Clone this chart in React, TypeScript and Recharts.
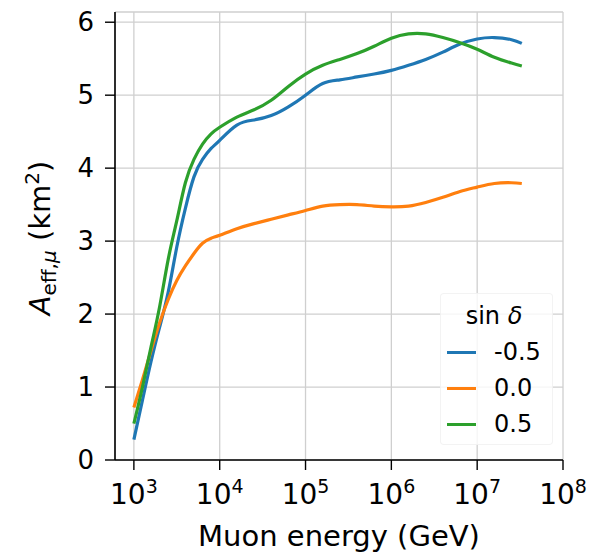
import React from 'react';
import { LineChart, Line, XAxis, YAxis, CartesianGrid, Legend } from 'recharts';

// log10 of muon energy (GeV)
const logEnergy = [3.0, 3.1, 3.2, 3.3, 3.4, 3.5, 3.6, 3.7, 3.8, 3.9, 4.0, 4.2, 4.4, 4.6, 4.8, 5.0, 5.2, 5.4, 5.6, 5.8, 6.0, 6.2, 6.4, 6.6, 6.8, 7.0, 7.2, 7.4, 7.52];
const aeffSinMinus05 = [0.28, 0.82, 1.35, 1.82, 2.3, 2.92, 3.45, 3.88, 4.12, 4.27, 4.38, 4.59, 4.66, 4.72, 4.84, 5.0, 5.16, 5.21, 5.25, 5.29, 5.34, 5.41, 5.49, 5.59, 5.70, 5.77, 5.79, 5.76, 5.71];
const aeffSin00 = [0.72, 1.1, 1.5, 1.88, 2.2, 2.46, 2.66, 2.83, 2.97, 3.04, 3.08, 3.17, 3.24, 3.30, 3.36, 3.42, 3.48, 3.50, 3.50, 3.48, 3.47, 3.48, 3.53, 3.60, 3.68, 3.74, 3.79, 3.80, 3.79];
const aeffSinPlus05 = [0.5, 1.0, 1.55, 2.1, 2.75, 3.28, 3.8, 4.12, 4.33, 4.47, 4.56, 4.70, 4.80, 4.93, 5.12, 5.29, 5.41, 5.49, 5.57, 5.67, 5.78, 5.84, 5.84, 5.79, 5.72, 5.63, 5.52, 5.44, 5.40];

const xTicks = [3, 4, 5, 6, 7, 8];
const yTicks = [0, 1, 2, 3, 4, 5, 6];

const seriesNames = ['-0.5', '0.0', '0.5'];
const seriesKeys = ['m05', 'z00', 'p05'];
const seriesColors = ['#1f77b4', '#ff7f0e', '#2ca02c'];

const data = logEnergy.map((x, i) => ({
  x,
  m05: aeffSinMinus05[i],
  z00: aeffSin00[i],
  p05: aeffSinPlus05[i],
}));

const FONT = 'DejaVu Sans';

const XTick = (props: any) => {
  const { x, y, payload } = props;
  return (
    <text x={x} y={y + 34} textAnchor="middle" fontFamily={FONT} fontSize={28} fill="#000">
      <tspan>10</tspan>
      <tspan dy={-11} fontSize={19}>{payload.value}</tspan>
    </text>
  );
};

const XLabel = (props: any) => {
  const vb = props.viewBox || { x: 115, y: 460, width: 448, height: 96 };
  return (
    <text x={vb.x + vb.width / 2} y={vb.y + 86} textAnchor="middle" fontFamily={FONT} fontSize={29} fill="#000">
      Muon energy (GeV)
    </text>
  );
};

const YLabel = (props: any) => {
  const vb = props.viewBox || { x: 0, y: 12, width: 115, height: 448 };
  const cx = 50;
  const cy = vb.y + vb.height / 2 + 2;
  return (
    <text
      x={cx}
      y={cy}
      transform={`rotate(-90, ${cx}, ${cy})`}
      textAnchor="middle"
      fontFamily={FONT}
      fontSize={29}
      fill="#000"
    >
      <tspan fontStyle="italic">A</tspan>
      <tspan fontSize={20} dy={6}>eff,</tspan>
      <tspan fontSize={20} fontStyle="italic">μ</tspan>
      <tspan dy={-6}> (km</tspan>
      <tspan fontSize={20} dy={-11}>2</tspan>
      <tspan dy={11}>)</tspan>
    </text>
  );
};

const LegendBox = () => (
  <div
    style={{
      width: 113,
      height: 152,
      boxSizing: 'border-box',
      background: 'rgba(255,255,255,0.8)',
      border: '1px solid rgba(235,235,235,0.6)',
      borderRadius: 4,
      fontFamily: FONT,
      fontSize: 24,
      color: '#000',
      position: 'relative',
    }}
  >
    <div style={{ position: 'absolute', left: 0, width: 106, top: 8, textAlign: 'center', lineHeight: '28px' }}>
      sin <span style={{ fontStyle: 'italic' }}>δ</span>
    </div>
    {seriesNames.map((name, i) => (
      <div key={name} style={{ position: 'absolute', left: 6, top: 44 + i * 36, height: 28, display: 'flex', alignItems: 'center' }}>
        <div style={{ width: 29, height: 3, background: seriesColors[i] }} />
        <div style={{ marginLeft: 18, lineHeight: '28px' }}>{name}</div>
      </div>
    ))}
  </div>
);

export default function App() {
  return (
    <div style={{ position: 'absolute', left: 0, top: 0, width: 591, height: 556, background: '#fff' }}>
      <LineChart width={591} height={556} data={data} margin={{ top: 12, right: 28, left: 0, bottom: 0 }}>
        <CartesianGrid stroke="#cfcfcf" strokeWidth={1.3} />
        <XAxis
          dataKey="x"
          type="number"
          domain={[2.78, 8]}
          ticks={xTicks}
          allowDataOverflow
          height={96}
          tick={<XTick />}
          tickSize={10}
          tickMargin={0}
          stroke="#000"
          strokeWidth={1.6}
          tickLine={{ stroke: '#000', strokeWidth: 1.4 }}
          label={<XLabel />}
        />
        <XAxis xAxisId="top" orientation="top" dataKey="x" type="number" domain={[2.78, 8]} height={0} tick={false} tickLine={false} stroke="#000" strokeWidth={1.6} />
        <YAxis
          type="number"
          domain={[0, 6.14]}
          ticks={yTicks}
          allowDataOverflow
          width={115}
          tickSize={10}
          tickMargin={11}
          tick={{ fontFamily: FONT, fontSize: 26, fill: '#000' }}
          stroke="#000"
          strokeWidth={1.6}
          tickLine={{ stroke: '#000', strokeWidth: 1.4 }}
          label={<YLabel />}
        />
        <YAxis yAxisId="right" orientation="right" type="number" domain={[0, 6.14]} width={0} tick={false} tickLine={false} stroke="#000" strokeWidth={1.6} />
        {seriesKeys.map((k, i) => (
          <Line
            key={k}
            dataKey={k}
            name={seriesNames[i]}
            type="natural"
            stroke={seriesColors[i]}
            strokeWidth={3.2}
            dot={false}
            activeDot={false}
            isAnimationActive={false}
          />
        ))}
        <Legend
          layout="vertical"
          align="center"
          verticalAlign="middle"
          content={<LegendBox />}
          wrapperStyle={{ left: 440, top: 293, width: 113, height: 152 }}
        />
      </LineChart>
    </div>
  );
}
